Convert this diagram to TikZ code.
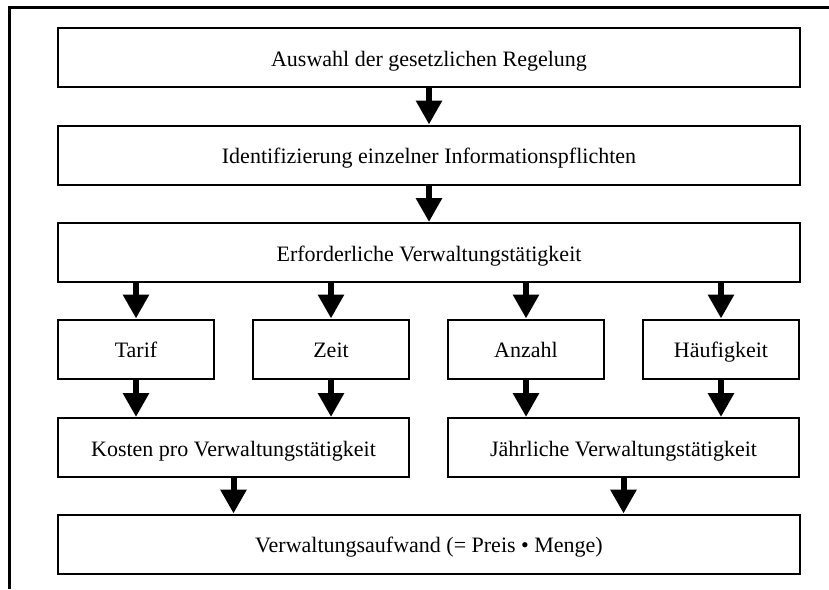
\documentclass[tikz,border=0pt]{standalone}
\usepackage{fontspec}
\setmainfont{Liberation Serif}
\usetikzlibrary{arrows.meta,positioning}

\begin{document}
\begin{tikzpicture}[x=0.5pt,y=-0.5pt,
            box/.style={draw,line width=1pt,rectangle,minimum height=29.5pt,inner sep=0pt,text height=9pt,text depth=0.5pt,align=center,font=\fontsize{11}{13}\selectfont},
            wide/.style={box,minimum width=371pt,node distance=48.75pt},
            half/.style={box,minimum width=175.5pt},
            small/.style={box,minimum width=78pt,node distance=97.5pt},
            every edge/.style={draw,line width=3pt,-{Triangle[width=12.5pt,length=12pt]}}
          ]
          \useasboundingbox (0,0) rectangle (829,589);
          %frame
          \draw[line width=1.5pt] (9,589) -- (9,7) -- (829,7);

          %main column
          \node[wide] (auswahl) at (429,57.5) {Auswahl der gesetzlichen Regelung};
          \node[below of = auswahl,wide] (ident) {Identifizierung einzelner Informationspflichten};
          \node[below of = ident,wide] (taetig) {Erforderliche Verwaltungstätigkeit};

          %factors
          \node[small] (tarif) at (136,349) {Tarif};
          \node[right of = tarif,small] (zeit) {Zeit};
          \node[right of = zeit,small] (anzahl) {Anzahl};
          \node[right of = anzahl,small] (haeufig) {Häufigkeit};

          %intermediate results
          \node[half] (kosten) at (233.5,447.5) {Kosten pro Verwaltungstätigkeit};
          \node[half] (jaehrl) at (623.5,447.5) {Jährliche Verwaltungstätigkeit};

          %result
          \node[wide] (aufwand) at (429,544) {Verwaltungsaufwand (= Preis • Menge)};

          \path
          (auswahl.south) edge (ident.north)
          (ident.south) edge (taetig.north)
          (tarif.north |- taetig.south) edge (tarif.north)
          (zeit.north |- taetig.south) edge (zeit.north)
          (anzahl.north |- taetig.south) edge (anzahl.north)
          (haeufig.north |- taetig.south) edge (haeufig.north)
          (tarif.south) edge (tarif.south |- kosten.north)
          (zeit.south) edge (zeit.south |- kosten.north)
          (anzahl.south) edge (anzahl.south |- jaehrl.north)
          (haeufig.south) edge (haeufig.south |- jaehrl.north)
          (kosten.south) edge (kosten.south |- aufwand.north)
          (jaehrl.south) edge (jaehrl.south |- aufwand.north)
          ;

      \end{tikzpicture}
\end{document}
